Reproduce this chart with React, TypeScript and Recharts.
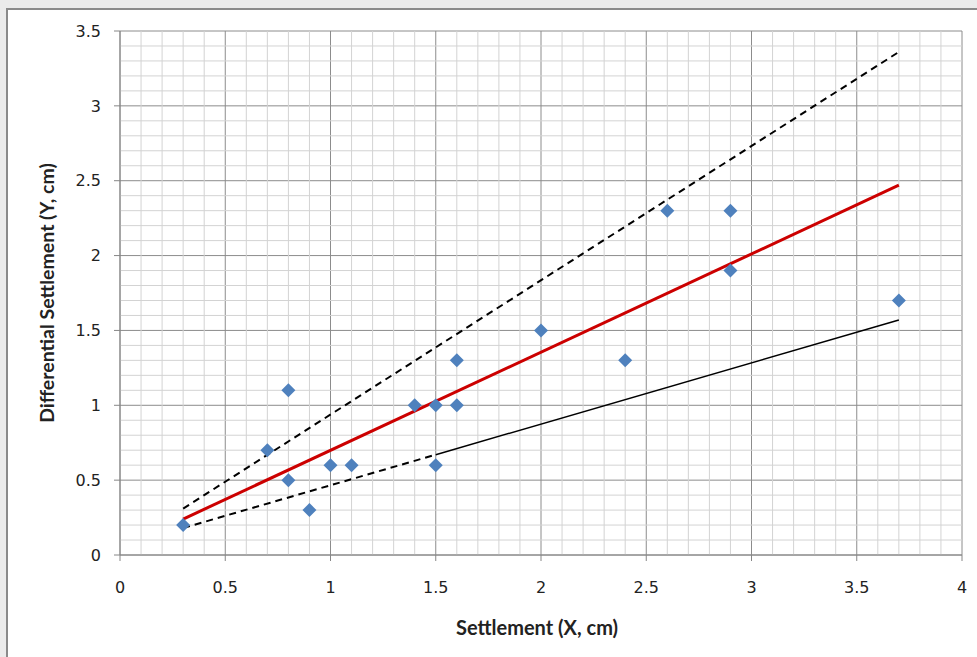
import React from "react";
import {
  ScatterChart,
  Scatter,
  XAxis,
  YAxis,
  CartesianGrid,
  ReferenceLine,
} from "recharts";

// measured points
const settlementX = [0.3, 0.7, 0.8, 0.8, 0.9, 1.0, 1.1, 1.4, 1.5, 1.5, 1.6, 1.6, 2.0, 2.4, 2.6, 2.9, 2.9, 3.7];
const diffSettlementY = [0.2, 0.7, 1.1, 0.5, 0.3, 0.6, 0.6, 1.0, 1.0, 0.6, 1.3, 1.0, 1.5, 1.3, 2.3, 2.3, 1.9, 1.7];

// trend / bound lines (end points)
const fitLine = [
  { x: 0.3, y: 0.24 },
  { x: 3.7, y: 2.47 },
];
const upperBound = [
  { x: 0.3, y: 0.31 },
  { x: 3.7, y: 3.36 },
];
const lowerBoundDashed = [
  { x: 0.3, y: 0.18 },
  { x: 1.5, y: 0.67 },
];
const lowerBoundSolid = [
  { x: 1.5, y: 0.67 },
  { x: 3.7, y: 1.57 },
];

const xTicks = [0, 0.5, 1, 1.5, 2, 2.5, 3, 3.5, 4];
const yTicks = [0, 0.5, 1, 1.5, 2, 2.5, 3, 3.5];
// minor grid every 0.1 (skip the major positions)
const xMinorTicks = Array.from({ length: 41 }, (_, i) => i / 10).filter((_, i) => i % 5 !== 0);
const yMinorTicks = Array.from({ length: 36 }, (_, i) => i / 10).filter((_, i) => i % 5 !== 0);

const points = settlementX.map((x, i) => ({ x, y: diffSettlementY[i] }));

const tickStyle = { fontFamily: "DejaVu Sans", fontSize: 16, fill: "#222" };
const titleFont = "Lato";

const Diamond = (p: any) => {
  const { cx, cy } = p;
  if (cx == null || cy == null) return <g />;
  const r = 7;
  return (
    <path
      d={`M${cx},${cy - r}L${cx + r},${cy}L${cx},${cy + r}L${cx - r},${cy}Z`}
      fill="#4f81bd"
    />
  );
};

const NoDot = () => <g />;

export default function App() {
  return (
    <div
      style={{
        position: "absolute",
        left: 0,
        top: 0,
        width: 977,
        height: 657,
        background: "#ebebeb",
        overflow: "hidden",
      }}
    >
      <div
        style={{
          position: "absolute",
          left: 6,
          top: 8,
          width: 977,
          height: 657,
          background: "#fff",
          borderLeft: "2px solid #8a8a8a",
          borderTop: "2px solid #8a8a8a",
        }}
      />
      <div style={{ position: "absolute", left: 0, top: 0 }}>
        <ScatterChart
          width={977}
          height={657}
          margin={{ top: 31, right: 15, left: 40, bottom: 42 }}
        >
          {xMinorTicks.map((v) => (
            <ReferenceLine key={"mx" + v} x={v} stroke="#d3d3d3" strokeWidth={1} />
          ))}
          {yMinorTicks.map((v) => (
            <ReferenceLine key={"my" + v} y={v} stroke="#d3d3d3" strokeWidth={1} />
          ))}
          <CartesianGrid stroke="#8c8c8c" strokeWidth={1} />
          <XAxis
            type="number"
            dataKey="x"
            domain={[0, 4]}
            ticks={xTicks}
            interval={0}
            height={60}
            tickSize={6}
            tickMargin={21}
            stroke="#868686"
            tick={tickStyle}
            label={{
              content: (props: any) => {
                const vb = props.viewBox;
                return (
                  <text
                    x={vb.x + vb.width / 2 - 4}
                    y={635}
                    textAnchor="middle"
                    fontFamily={titleFont}
                    fontWeight="bold"
                    fontSize={20}
                    fill="#222"
                  >
                    Settlement (X, cm)
                  </text>
                );
              },
            }}
          />
          <YAxis
            type="number"
            dataKey="y"
            domain={[0, 3.5]}
            ticks={yTicks}
            interval={0}
            width={80}
            tickSize={6}
            tickMargin={13}
            stroke="#868686"
            tick={tickStyle}
            label={{
              content: (props: any) => {
                const vb = props.viewBox;
                const cy = vb.y + vb.height / 2;
                return (
                  <text
                    x={54}
                    y={cy}
                    transform={`rotate(-90 54 ${cy})`}
                    textAnchor="middle"
                    fontFamily={titleFont}
                    fontWeight="bold"
                    fontSize={19.5}
                    fill="#222"
                  >
                    Differential Settlement (Y, cm)
                  </text>
                );
              },
            }}
          />
          <Scatter
            data={upperBound}
            line={{ stroke: "#000", strokeWidth: 2, strokeDasharray: "7 5" }}
            shape={NoDot}
            isAnimationActive={false}
          />
          <Scatter
            data={lowerBoundDashed}
            line={{ stroke: "#000", strokeWidth: 2, strokeDasharray: "7 5" }}
            shape={NoDot}
            isAnimationActive={false}
          />
          <Scatter
            data={lowerBoundSolid}
            line={{ stroke: "#000", strokeWidth: 1.5 }}
            shape={NoDot}
            isAnimationActive={false}
          />
          <Scatter
            data={fitLine}
            line={{ stroke: "#cc0000", strokeWidth: 3 }}
            shape={NoDot}
            isAnimationActive={false}
          />
          <Scatter data={points} shape={Diamond} isAnimationActive={false} />
        </ScatterChart>
      </div>
    </div>
  );
}
